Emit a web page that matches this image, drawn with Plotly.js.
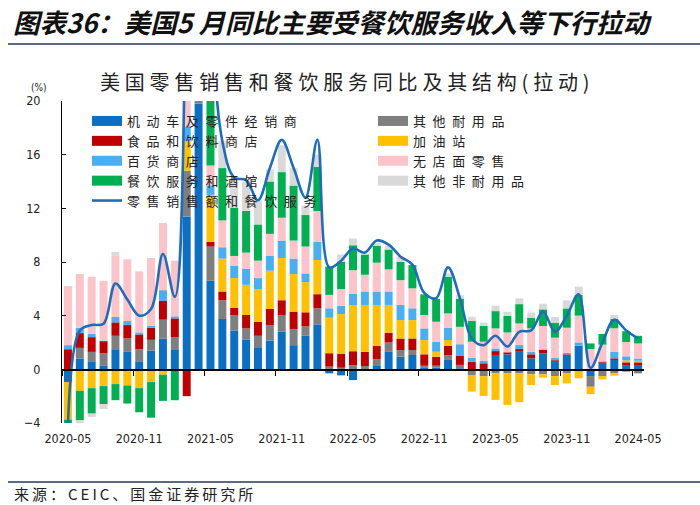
<!DOCTYPE html>
<html>
<head>
<meta charset="utf-8">
<script src="https://cdn.plot.ly/plotly-3.0.1.min.js"></script>
<style>
  html, body { margin: 0; padding: 0; background: #fff; }
  #chart { width: 700px; height: 505px; }
  .gtitle { letter-spacing: 4.8px; }
  text.legendtext, .infolayer g[class^="legend"] text { letter-spacing: 6.6px !important; }
</style>
</head>
<body>
<div id="chart"></div>
<script>
// ---- data (percentage points) ----
const months = ['2020-05','2020-06','2020-07','2020-08','2020-09','2020-10','2020-11','2020-12','2021-01','2021-02',
  '2021-03','2021-04','2021-05','2021-06','2021-07','2021-08','2021-09','2021-10','2021-11','2021-12',
  '2022-01','2022-02','2022-03','2022-04','2022-05','2022-06','2022-07','2022-08','2022-09','2022-10',
  '2022-11','2022-12','2023-01','2023-02','2023-03','2023-04','2023-05','2023-06','2023-07','2023-08',
  '2023-09','2023-10','2023-11','2023-12','2024-01','2024-02','2024-03','2024-04','2024-05'];

const motorVehicles = [-0.95,0.8,0.6,0.3,1.5,1.3,0.6,1.4,2.3,1.5,
  11.4,19.8,6.6,3.75,2.9,2.2,1.65,2.15,2.8,1.8,
  2.5,3.35,-0.3,-0.45,-0.8,-0.1,0.25,1.3,0.94,1.07,
  0.15,0.12,0.7,0.08,0,0,1.07,1.12,1.31,0.82,
  1.19,0.65,1.07,1.76,-0.5,0.5,0.7,0.32,0.32];
const otherDurable = [0,0.8,0.7,0.9,1.0,1.0,0.9,0.8,1.4,0.9,
  3.4,6.0,2.55,1.4,1.15,0.85,0.85,1.15,1.25,1.2,
  0.7,1.2,0.2,0.12,0.3,0.25,0.5,0.7,0.5,0.37,
  0.12,0.15,0.37,0.25,-0.42,-0.5,-0.3,-0.3,-0.3,-0.37,
  -0.37,-0.5,-0.3,-0.17,-0.8,-0.5,-0.3,-0.17,-0.3];
const foodBeverage = [1.5,1.1,1.1,0.9,1.0,1.0,1.1,0.9,1.4,1.4,
  -2.0,0.5,0.35,0.65,0.55,1.0,1.05,1.2,1.1,1.3,
  1.05,1.05,1.0,1.02,1.05,1.05,1.0,0.73,0.86,0.86,
  0.85,0.67,0.69,0.7,0.57,0.45,0.29,0.15,0.2,0.3,
  0.25,0.05,0.05,0,0,0.05,0.12,0.2,0.2];
const gasStations = [-2.8,-1.6,-1.4,-1.25,-1.1,-1.2,-1.4,-0.95,-0.4,0,
  2.2,4.0,3.5,2.45,2.2,2.25,2.4,2.85,3.15,2.8,
  2.25,2.55,2.65,2.98,3.42,3.5,3.05,2.07,1.37,1.37,
  1.06,0.37,0.42,-0.1,-1.24,-1.48,-1.98,-2.35,-2.15,-0.8,
  -0.25,-0.67,-0.75,-0.5,-0.55,-0.25,-0.17,0.15,0.12];
const departmentStores = [0.3,0.4,0.25,0.05,0.4,0.3,0.15,0.15,0.8,0.15,
  1.1,2.5,0.7,0.85,0.9,1.2,0.85,1.1,1.3,1.15,
  0.65,1.35,0.7,0.62,0.87,1.0,1.0,1.0,1.13,0.88,
  0.87,0.75,0.92,0.84,0.3,0.2,0.2,0,0.3,0.19,
  0.05,0.17,0.12,0.25,0,0.05,0.5,0.3,0.17];
const nonstore = [4.4,4.0,4.25,4.45,4.6,4.6,4.55,5.05,5.0,4.15,
  3.5,4.0,1.5,2.0,0.75,1.2,1.3,1.65,1.7,1.35,
  2.0,2.3,1.0,1.24,1.75,1.25,2.15,1.65,1.85,1.49,
  1.0,1.49,1.07,1.3,1.19,1.41,1.49,1.48,1.61,1.74,
  1.74,1.49,1.86,1.99,1.51,1.24,1.74,1.07,1.12];
const foodServices = [-0.25,-2.2,-1.9,-1.35,-1.2,-1.35,-1.8,-2.65,-1.95,-2.3,
  6.5,11.0,8.0,3.9,3.6,3.1,2.7,3.9,3.4,4.1,
  2.35,3.3,2.1,2.02,1.86,1.5,1.25,1.48,1.35,1.73,
  1.54,1.69,2.73,2.1,1.54,1.17,1.29,1.24,1.44,0.8,
  1.24,1.12,1.44,1.54,0.42,0.8,0.7,0.8,0.57];
const otherNondurable = [0,-0.2,-0.25,-0.35,0.25,0,0,0,0,0,
  1.5,3.0,4.8,2.0,2.2,2.2,1.8,0.9,2.0,1.3,
  0.7,0.9,0,0.56,0.5,0,0.2,0.25,0.4,0,
  0,0,0.25,0.25,0.32,0.25,0.4,0.3,0.43,0.39,
  0.42,0.42,0.6,0.62,0,0,0.3,0,0];
const totalYoY = [-4.2,2.9,3.3,3.4,6.4,5.2,4.0,4.5,8.6,5.4,
  28.0,51.0,28.0,17.0,14.3,14.1,12.6,15.0,17.1,15.0,
  12.8,17.1,7.6,8.1,9.0,8.7,9.6,9.3,8.4,7.8,
  5.7,5.3,7.6,5.3,2.3,1.8,2.5,1.7,2.8,2.9,
  4.3,2.8,4.0,5.6,0.1,2.0,3.7,2.9,2.3];

const seriesNames = ['机动车及零件经销商','其他耐用品','食品和饮料商店','加油站','百货商店','无店面零售','餐饮服务和酒馆','其他非耐用品'];
const lineName = '零售销售额和餐饮服务';
const seriesValues = [motorVehicles, otherDurable, foodBeverage, gasStations, departmentStores, nonstore, foodServices, otherNondurable];
const seriesColors = ['#0B6FC4','#7F7F7F','#C00000','#FFC000','#4AAEF2','#FCC3C9','#00B050','#D9D9D9'];
const legendColumn = ['legend','legend2','legend','legend2','legend','legend2','legend','legend2'];
const legendRank = [1,1,2,2,3,3,4,4];

const CJK = '"Noto Sans CJK SC", "Noto Sans", sans-serif';
const NARROW = '"Liberation Sans Narrow", "DejaVu Sans Condensed", "Liberation Sans", sans-serif';

const traces = [];
seriesNames.forEach((name, i) => {
  traces.push({
    type: 'bar', name: name, x: months, y: seriesValues[i],
    marker: {color: seriesColors[i], line: {width: 0}},
    showlegend: false
  });
});
traces.push({
  type: 'scatter', mode: 'lines', name: lineName, x: months, y: totalYoY,
  line: {color: '#1D6DBA', width: 2.6, shape: 'spline', smoothing: 1},
  showlegend: false
});
// legend entries (wide rectangle keys like the original)
seriesNames.forEach((name, i) => {
  traces.push({
    type: 'scatter', mode: 'lines', name: name, x: [0], y: [null],
    xaxis: 'x2', line: {color: seriesColors[i], width: 10},
    legend: legendColumn[i], legendrank: legendRank[i], hoverinfo: 'skip'
  });
});
traces.push({
  type: 'scatter', mode: 'lines', name: lineName, x: [0], y: [null],
  xaxis: 'x2', line: {color: '#1D6DBA', width: 2.6},
  legend: 'legend', legendrank: 5, hoverinfo: 'skip'
});

const boundaryTicks = months.map((m, i) => i - 0.5).filter((v, i) => i % 6 === 0);

// pixel -> paper helpers for layout decorations
const L = 62, R = 56, T = 101, B = 82, W = 700, H = 505;
const pw = W - L - R, ph = H - T - B;
const px = v => (v - L) / pw;
const py = v => (H - B - v) / ph;

const layout = {
  width: W, height: H,
  margin: {l: L, r: R, t: T, b: B, pad: 0},
  paper_bgcolor: '#ffffff', plot_bgcolor: '#ffffff',
  barmode: 'relative', bargap: 0.33,
  hovermode: false,
  font: {family: CJK, size: 13, color: '#222'},
  title: {
    text: '美国零售销售和餐饮服务同比及其结构(拉动)',
    font: {family: CJK, size: 20, color: '#222'},
    xref: 'container', yref: 'container',
    x: 100 / W, xanchor: 'left', y: 1 - 83 / H, yanchor: 'middle'
  },
  xaxis: {
    type: 'category', categoryorder: 'array', categoryarray: months,
    range: [-0.5, 48.5], tickmode: 'linear', tick0: 0, dtick: 6,
    ticks: '', showline: false, showgrid: false, zeroline: false,
    tickfont: {family: NARROW, size: 12.5, color: '#222'},
    ticklabelstandoff: 6, fixedrange: true
  },
  xaxis2: {
    overlaying: 'x', anchor: 'free', position: 4 / 24, type: 'linear',
    range: [-0.5, 48.5], tickmode: 'array', tickvals: boundaryTicks,
    ticks: 'outside', ticklen: 5, tickwidth: 1, tickcolor: '#000',
    showline: true, linecolor: '#000', linewidth: 1.6,
    showticklabels: false, showgrid: false, zeroline: false, fixedrange: true
  },
  yaxis: {
    range: [-4, 20], tickmode: 'linear', tick0: 0, dtick: 4,
    ticks: 'inside', ticklen: 4, tickcolor: '#000', tickwidth: 1,
    showline: true, linecolor: '#000', linewidth: 1,
    showgrid: false, zeroline: false,
    tickfont: {family: NARROW, size: 12.5, color: '#222'},
    ticklabelstandoff: 18, fixedrange: true
  },
  legend: {
    x: px(87), xanchor: 'left', y: py(106), yanchor: 'top',
    orientation: 'v', bgcolor: 'rgba(0,0,0,0)', borderwidth: 0,
    font: {family: CJK, size: 13, color: '#222'}, itemwidth: 30, traceorder: 'normal'
  },
  legend2: {
    x: px(373), xanchor: 'left', y: py(106), yanchor: 'top',
    orientation: 'v', bgcolor: 'rgba(0,0,0,0)', borderwidth: 0,
    font: {family: CJK, size: 13, color: '#222'}, itemwidth: 30, traceorder: 'normal'
  },
  annotations: [
    {text: '图表36：美国5 月同比主要受餐饮服务收入等下行拉动', xref: 'paper', yref: 'paper',
     x: px(11), y: py(22), xanchor: 'left', yanchor: 'middle', align: 'left', showarrow: false,
     font: {family: CJK, size: 26.5, color: '#111', weight: 'bold', style: 'italic'}},
    {text: '(%)', xref: 'paper', yref: 'paper', x: px(39), y: py(87),
     xanchor: 'center', yanchor: 'middle', showarrow: false,
     font: {family: NARROW, size: 10, color: '#222'}},
    {text: '来源：CEIC、国金证券研究所', xref: 'paper', yref: 'paper',
     x: px(12), y: py(493), xanchor: 'left', yanchor: 'middle', align: 'left', showarrow: false,
     font: {family: CJK, size: 15, color: '#222'}}
  ],
  shapes: [
    {type: 'line', xref: 'paper', yref: 'paper', x0: px(8), x1: px(700), y0: py(44), y1: py(44),
     line: {color: '#24395C', width: 1.6}},
    {type: 'line', xref: 'paper', yref: 'paper', x0: px(8), x1: px(700), y0: py(482), y1: py(482),
     line: {color: '#24395C', width: 1.6}}
  ]
};

function spaceText(gd) {
  gd.querySelectorAll('.infolayer g[class^="legend"] text').forEach(t => { t.style.letterSpacing = '6.6px'; });
  gd.querySelectorAll('.infolayer g[class^="legend"] [clip-path]').forEach(e => e.removeAttribute('clip-path'));
  gd.querySelectorAll('.annotation[data-index="2"] text').forEach(t => { t.style.letterSpacing = '3px'; });
}
Plotly.newPlot('chart', traces, layout, {displayModeBar: false, staticPlot: true}).then(gd => {
  spaceText(gd);
  gd.on('plotly_afterplot', () => spaceText(gd));
  setTimeout(() => spaceText(gd), 50);
});
</script>
</body>
</html>
